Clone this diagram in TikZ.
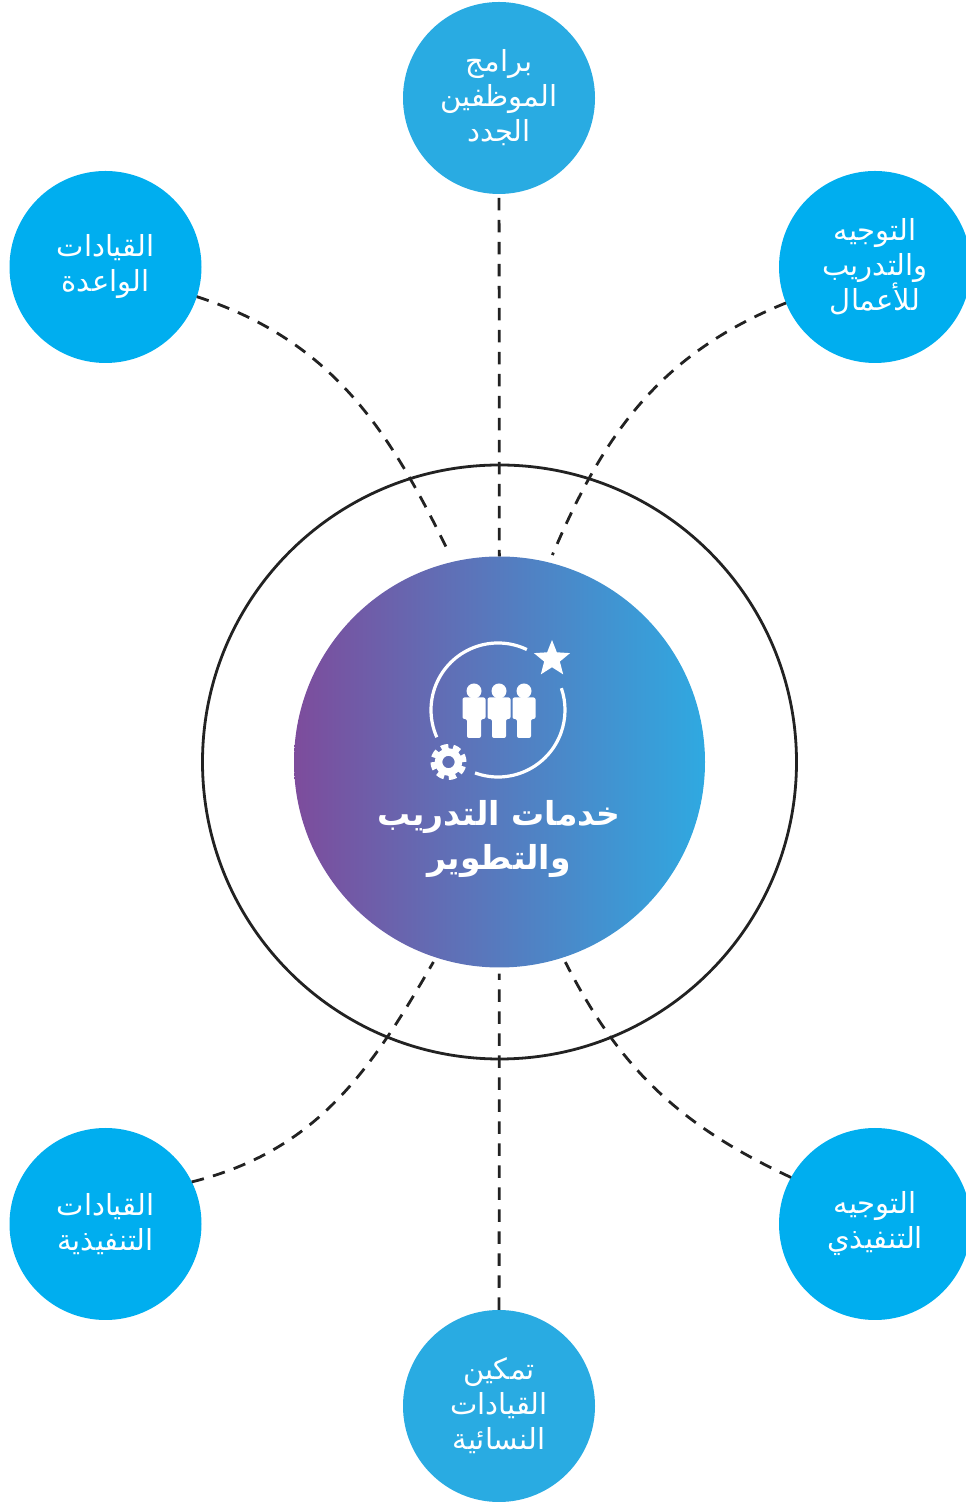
\documentclass[tikz,border=0pt]{standalone}
\usepackage{fontspec}
\usetikzlibrary{shapes.geometric}
\TeXXeTstate=1
\newfontfamily\arabicfont[Script=Arabic]{DejaVu Sans}
\newcommand{\rl}[1]{\beginR #1\endR}
\definecolor{skyA}{HTML}{29ABE2}
\definecolor{skyB}{HTML}{00AEEF}
\definecolor{coreL}{HTML}{7D4C9C}
\definecolor{coreM}{HTML}{5F86C6}
\definecolor{coreR}{HTML}{2FA9E1}
\definecolor{inkline}{HTML}{222222}
\tikzset{
  bubble/.style={circle,minimum size=192pt,inner sep=0pt,outer sep=0pt,text=white,align=center,
    font=\arabicfont\fontsize{29}{35}\selectfont},
  dashline/.style={draw=inkline,line width=2.8pt,dash pattern=on 12.5pt off 9.5pt},
}
\begin{document}
\begin{tikzpicture}[x=1pt,y=1pt]
\useasboundingbox (0,0) rectangle (966,1502);
\node (ring) [circle,draw=inkline,line width=2.8pt,minimum size=594pt,inner sep=0pt] at (499.5,740) {};
\node (core) [circle,minimum size=411pt,inner sep=0pt,left color=coreL,middle color=coreM,right color=coreR] at (499.5,740) {};
\node (newstaff) [bubble,fill=skyA] at (499,1404) {\rl{برامج}\\\rl{الموظفين}\\\rl{الجدد}};
\node (emerging) [bubble,fill=skyB] at (105.5,1235) {\rl{القيادات}\\\rl{الواعدة}};
\node (coaching) [bubble,fill=skyB] at (875,1235) {\rl{التوجيه}\\\rl{والتدريب}\\\rl{للأعمال}};
\node (executive) [bubble,fill=skyB] at (105.5,278) {\rl{القيادات}\\\rl{التنفيذية}};
\node (mentoring) [bubble,fill=skyB] at (875,278) {\rl{التوجيه}\\\rl{التنفيذي}};
\node (women) [bubble,fill=skyA] at (499,96) {\rl{تمكين}\\\rl{القيادات}\\\rl{النسائية}};
\node (title) [text=white,align=center,font=\arabicfont\bfseries\fontsize{33}{44}\selectfont] at (499,663) {\rl{خدمات التدريب}\\\rl{والتطوير}};
% connectors
\path[dashline]
(newstaff) edge [shorten <=4pt] (core)
(women) edge [shorten >=6pt] (core)
(emerging.-18.5) edge [out=-18,in=116,shorten >=8pt] (core.103.6)
(coaching.202) edge [out=202,in=67,shorten >=8pt] (core.76)
(executive.26) edge [out=14,in=240,shorten >=5pt] (core.252.5)
(mentoring.151) edge [out=155,in=297,shorten >=5pt] (core.288.8)
;
% icon
\node (badge) [star,star points=5,star point ratio=2.3,fill=white,minimum size=38pt,inner sep=0pt] at (552,843) {};
\coordinate (hub) at (498,792);
\draw[white,line width=3.2pt] (hub) ++(64.5:67) arc (64.5:204:67);
\draw[white,line width=3.2pt] (hub) ++(250:67) arc (250:379:67);
\coordinate (gear) at (448.5,740);
\draw[white,line width=7.5pt] (gear) circle (10);
\draw[white,line width=5pt,dash pattern=on 7.4pt off 4.8pt] (gear) circle (15.5);
\foreach \x in {474,499,524}{
\fill[white] (\x,811) circle (7.5);
\fill[white,rounded corners=2pt] (\x-11.5,783) -- (\x-11.5,804.5) -- (\x+11.5,804.5) -- (\x+11.5,783) -- (\x+7,783) -- (\x+7,764) -- (\x-7,764) -- (\x-7,783) -- cycle;
}
\end{tikzpicture}
\end{document}
